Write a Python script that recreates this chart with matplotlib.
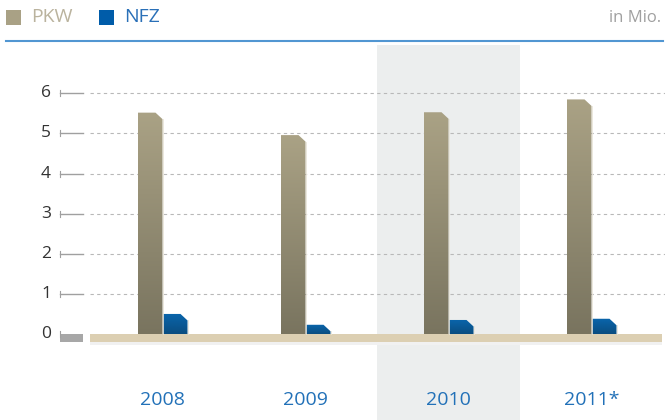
import numpy as np
import matplotlib.pyplot as plt
from matplotlib.patches import Polygon, Rectangle
from matplotlib.colors import LinearSegmentedColormap

plt.rcParams['font.family'] = ['Open Sans', 'DejaVu Sans']

# data (million vehicles)
years = ['2008', '2009', '2010', '2011*']
pkw = [5.52, 4.96, 5.53, 5.85]
nfz = [0.50, 0.23, 0.35, 0.38]
yticks = [0, 1, 2, 3, 4, 5, 6]
highlight = 2  # shaded year (2010)

# pixel geometry helpers (figure is 665 x 420 px)
W, H = 665, 420
x0_px, dx_px = 162.5, 143.0   # centre of first group, group spacing
y0_px, dy_px = 334.0, 40.1    # baseline (from top), px per unit

def px_x(p):
    return (p - x0_px) / dx_px

def px_y(p):
    return (y0_px - p) / dy_px

fig = plt.figure(figsize=(W / 100, H / 100), dpi=100)
ax = fig.add_axes([0, 0, 1, 1])
ax.set_xlim(px_x(0), px_x(W))
ax.set_ylim(px_y(H), px_y(0))
ax.axis('off')

bw = 25 / dx_px          # bar width
cw = 7 / dx_px           # chamfer width
ch = 6.5 / dy_px         # chamfer height

cm_pkw = LinearSegmentedColormap.from_list('pkw', ['#79745f', '#aaa285'])
cm_nfz = LinearSegmentedColormap.from_list('nfz', ['#0a4d80', '#0a66ad'])
grad = np.linspace(0, 1, 256).reshape(-1, 1)

# shaded column
ax.add_patch(Rectangle((highlight - 0.5, px_y(H)), 1.0, px_y(45) - px_y(H),
                       facecolor='#eceeee', edgecolor='none', zorder=0))

# grid lines and tick marks
for t in yticks:
    if t > 0:
        ax.plot([px_x(90), px_x(W)], [t, t], color='#b8b8b8', lw=0.8,
                ls=(0, (3, 3)), zorder=1)
        ax.plot([px_x(60), px_x(83)], [t, t], color='#a0a0a0', lw=1.0, zorder=1)
    else:
        ax.add_patch(Rectangle((px_x(60), -7.5 / dy_px), px_x(83) - px_x(60),
                               7.5 / dy_px, facecolor='#a7a7a7',
                               edgecolor='none', zorder=1))
    ax.plot([px_x(60), px_x(60)], [t - 3 / dy_px, t + 3 / dy_px],
            color='#a0a0a0', lw=0.8, zorder=1)
    ax.text(px_x(51), t, str(t), ha='right', va='center', fontsize=12.5,
            color='#333333')

# baseline band with soft shadow
ax.add_patch(Rectangle((px_x(90), -11 / dy_px), px_x(662) - px_x(90),
                       4 / dy_px, facecolor='#f1f1f1', edgecolor='none', zorder=2))
ax.add_patch(Rectangle((px_x(90), -7.5 / dy_px), px_x(662) - px_x(90),
                       7.5 / dy_px, facecolor='#dccfb2', edgecolor='none', zorder=3))


def chamfer_bar(left, height, cmap):
    right = left + bw
    pts = [(left, 0), (left, height), (right - cw, height),
           (right, height - min(ch, height * 0.8)), (right, 0)]
    poly = Polygon(pts, closed=True, facecolor='none', edgecolor='none')
    ax.add_patch(poly)
    im = ax.imshow(grad, cmap=cmap, origin='lower', aspect='auto',
                   extent=(left, right, 0, height), zorder=4)
    im.set_clip_path(poly)
    ax.plot([right, right], [0, height - min(ch, height * 0.8)],
            color='#e8e4d8', lw=0.6, zorder=5)


for i, (p, n) in enumerate(zip(pkw, nfz)):
    chamfer_bar(i - bw, p, cm_pkw)
    chamfer_bar(i, n, cm_nfz)
    ax.text(i, px_y(400), years[i], ha='center', va='center', fontsize=14,
            color='#2271b8')

# header: legend, unit, rule
ax.add_patch(Rectangle((px_x(6), px_y(25)), px_x(21) - px_x(6),
                       px_y(10) - px_y(25), facecolor='#a9a185', edgecolor='none'))
ax.text(px_x(31), px_y(17.5), 'PKW', ha='left', va='center', fontsize=14,
        color='#bab39e')
ax.add_patch(Rectangle((px_x(99), px_y(25)), px_x(114) - px_x(99),
                       px_y(10) - px_y(25), facecolor='#005ca9', edgecolor='none'))
ax.text(px_x(124), px_y(17.5), 'NFZ', ha='left', va='center', fontsize=14,
        color='#2a70b8')
ax.text(px_x(661), px_y(18), 'in Mio.', ha='right', va='center', fontsize=12,
        color='#a0a0a0')
ax.plot([px_x(6), px_x(663)], [px_y(41.5), px_y(41.5)], color='#5196d2', lw=1.5)

fig.savefig('out.png', dpi=100)
